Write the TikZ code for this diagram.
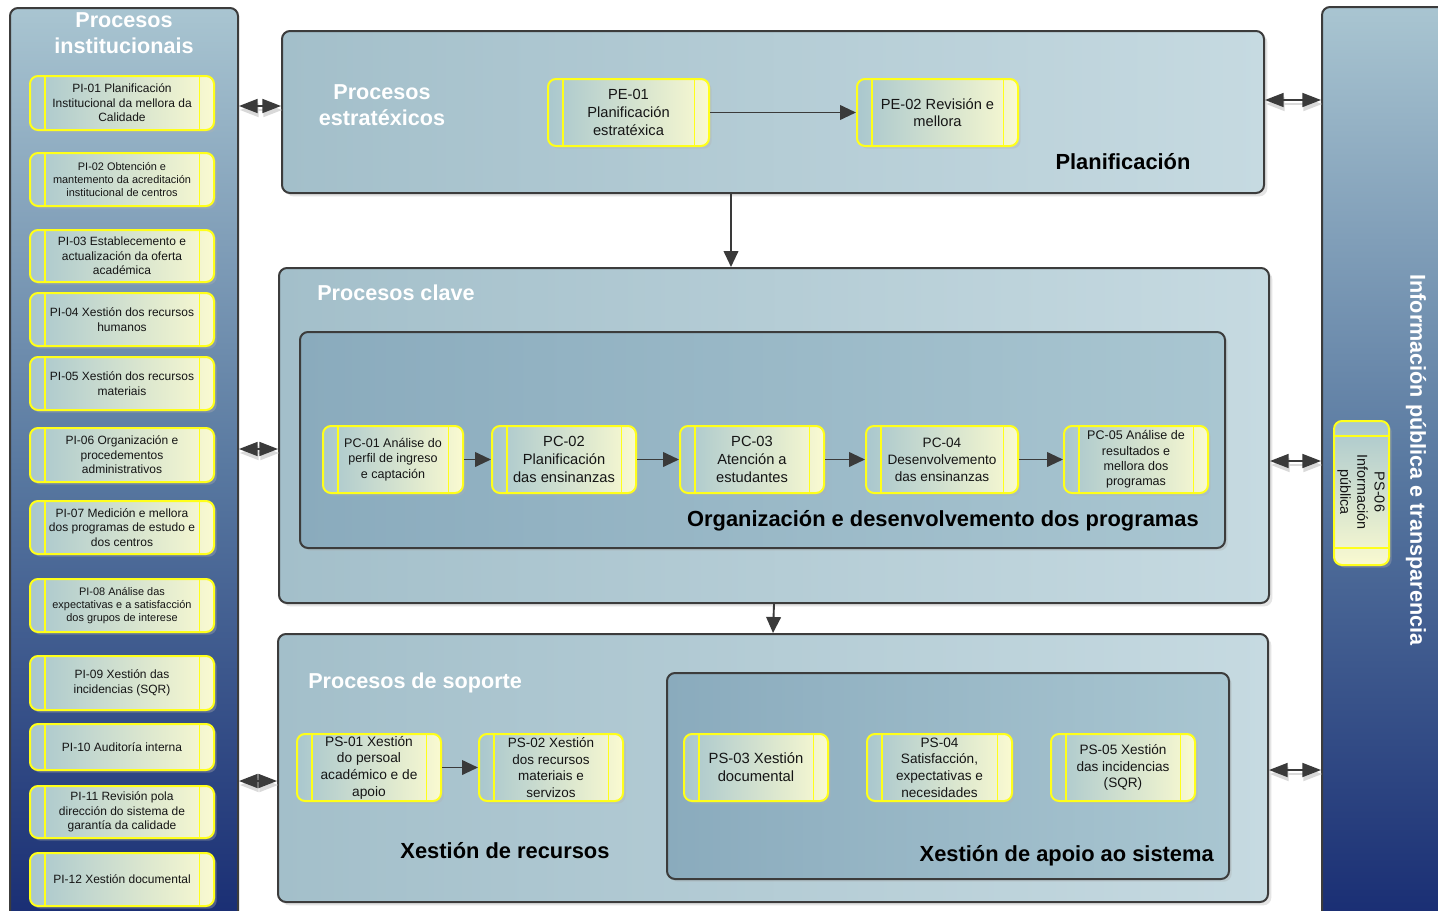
\documentclass[tikz,border=0pt]{standalone}
\usepackage{fontspec}
\setmainfont{Liberation Sans}
\usetikzlibrary{arrows.meta,fit,calc,shadows}
\definecolor{procyellow}{HTML}{FFFF1A}
\definecolor{pboxL}{HTML}{A9C7CE}
\definecolor{pboxR}{HTML}{FAFAD0}
\definecolor{contL}{HTML}{A3BFCA}
\definecolor{contR}{HTML}{C6DAE1}
\definecolor{innerL}{HTML}{8AABBD}
\definecolor{innerR}{HTML}{A9C6D1}
\definecolor{colT}{HTML}{A9C5D1}
\definecolor{colM}{HTML}{5878A0}
\definecolor{colB}{HTML}{172B72}
\definecolor{edge}{HTML}{3C3C3C}
\definecolor{arrowc}{HTML}{3A3A3A}
\definecolor{txt}{HTML}{151515}
\tikzset{
  pbox/.style={draw=procyellow, line width=1.5pt, rounded corners=6pt,
    left color=pboxL, right color=pboxR, inner sep=0pt,
    drop shadow={shadow xshift=2pt, shadow yshift=-2pt, fill=black!30, opacity=0.35},
    path picture={
      \draw[procyellow, line width=1.3pt]
        ([xshift=11.2pt]path picture bounding box.north west) --
        ([xshift=11.2pt]path picture bounding box.south west);
      \draw[procyellow, line width=1.3pt]
        ([xshift=-10.8pt]path picture bounding box.north east) --
        ([xshift=-10.8pt]path picture bounding box.south east);
    }},
  ptext/.style={align=center, text=txt, inner sep=0pt},
  vbox/.style={draw=procyellow, line width=1.5pt, rounded corners=6pt,
    top color=pboxL, bottom color=pboxR, inner sep=0pt,
    drop shadow={shadow xshift=2pt, shadow yshift=-2pt, fill=black!30, opacity=0.35},
    path picture={
      \draw[procyellow, line width=1.3pt]
        ([yshift=-11.5pt]path picture bounding box.north west) --
        ([yshift=-11.5pt]path picture bounding box.north east);
      \draw[procyellow, line width=1.3pt]
        ([yshift=12.5pt]path picture bounding box.south west) --
        ([yshift=12.5pt]path picture bounding box.south east);
    }},
  cont/.style={draw=edge, line width=1.5pt, rounded corners=6pt,
    left color=contL, right color=contR, inner sep=0pt,
    drop shadow={shadow xshift=2.5pt, shadow yshift=-2.5pt, fill=black!35, opacity=0.3}},
  innerbox/.style={draw=edge, line width=1.5pt, rounded corners=6pt,
    left color=innerL, right color=innerR, inner sep=0pt,
    drop shadow={shadow xshift=2pt, shadow yshift=-2pt, fill=black!35, opacity=0.3}},
  colbox/.style={draw=edge, line width=1.5pt, rounded corners=6pt,
    top color=colT, bottom color=colB, middle color=colM, inner sep=0pt},
  wtitle/.style={text=white, font=\fontsize{16.2}{19.5}\selectfont\bfseries, align=center, inner sep=0pt},
  btitle/.style={text=black, font=\fontsize{16.4}{19}\selectfont\bfseries, inner sep=0pt},
  arr/.style={draw=arrowc, line width=1.4pt, -{Triangle[length=12pt,width=11pt]}},
  dbl/.style={draw=arrowc, line width=1.3pt, {Triangle[length=14pt,width=10.5pt]}-{Triangle[length=14pt,width=10.5pt]}},
  dblsh/.style={draw=black!15, line width=1.3pt, {Triangle[length=14pt,width=10.5pt]}-{Triangle[length=14pt,width=10.5pt]}},
}
% name, corner1, corner2, font, text
\newcommand\mkproc[5]{%
  \node[pbox, fit={#2 #3}] (#1) {};
  \node[ptext, font=#4] (#1t) at (#1.center) {#5};
}
\newcommand\fPI{\fontsize{9}{10.9}\selectfont}
\newcommand\fPIs{\fontsize{8.2}{9.8}\selectfont}
\begin{document}
\begin{tikzpicture}[x=0.75pt,y=-0.75pt]
\useasboundingbox (0,0) rectangle (1438,910);
\clip (0,0) rectangle (1438,910);
\fill[white] (0,0) rectangle (1438,910);

% columns
\node[colbox, fit={(10,8) (238,935)}] (lcol) {};
\node[colbox, fit={(1322,7) (1460,935)}] (rcol) {};
\node[wtitle] (lcoltitle) at (124,33) {Procesos\\institucionais};
\node[wtitle, rotate=-90] (rcoltitle) at (1416,460) {Información pública e transparencia};

% PI boxes
\mkproc{pi1}{(30,76)}{(214,130)}{\fPI}{PI-01 Planificación\\Institucional da mellora da\\Calidade}
\mkproc{pi2}{(30,153)}{(214,206)}{\fPIs}{PI-02 Obtención e\\mantemento da acreditación\\institucional de centros}
\mkproc{pi3}{(30,230)}{(214,282)}{\fPI}{PI-03 Establecemento e\\actualización da oferta\\académica}
\mkproc{pi4}{(30,293)}{(214,346)}{\fPI}{PI-04 Xestión dos recursos\\humanos}
\mkproc{pi5}{(30,357)}{(214,410)}{\fPI}{PI-05 Xestión dos recursos\\materiais}
\mkproc{pi6}{(30,428)}{(214,482)}{\fPI}{PI-06 Organización e\\procedementos\\administrativos}
\mkproc{pi7}{(30,501)}{(214,554)}{\fPI}{PI-07 Medición e mellora\\dos programas de estudo e\\dos centros}
\mkproc{pi8}{(30,579)}{(214,632)}{\fPIs}{PI-08 Análise das\\expectativas e a satisfacción\\dos grupos de interese}
\mkproc{pi9}{(30,656)}{(214,710)}{\fPI}{PI-09 Xestión das\\incidencias (SQR)}
\mkproc{pi10}{(30,724)}{(214,770)}{\fPI}{PI-10 Auditoría interna}
\mkproc{pi11}{(30,786)}{(214,838)}{\fPI}{PI-11 Revisión pola\\dirección do sistema de\\garantía da calidade}
\mkproc{pi12}{(30,853)}{(214,906)}{\fPI}{PI-12 Xestión documental}

% strategic
\node[cont, fit={(282,31) (1264,193)}] (strat) {};
\node[wtitle] (strattitle) at (382,105) {Procesos\\estratéxicos};
\mkproc{pe1}{(548,79)}{(709,146)}{\fontsize{11}{13.2}\selectfont}{PE-01\\Planificación\\estratéxica}
\mkproc{pe2}{(857,79)}{(1018,146)}{\fontsize{11}{13.2}\selectfont}{PE-02 Revisión e\\mellora}
\node[btitle] (plan) at (1123,162) {Planificación};
\draw[arr] (pe1) -- (pe2);

% key
\node[cont, fit={(279,268) (1269,603)}] (key) {};
\node[wtitle, anchor=west] (keytitle) at (317,293) {Procesos clave};
\node[innerbox, fit={(300,332) (1225,548)}] (keyin) {};
\mkproc{pc1}{(323,426)}{(463,493)}{\fontsize{9.4}{11.6}\selectfont}{PC-01 Análise do\\perfil de ingreso\\e captación}
\mkproc{pc2}{(492,426)}{(636,493)}{\fontsize{11}{13.5}\selectfont}{PC-02\\Planificación\\das ensinanzas}
\mkproc{pc3}{(680,426)}{(824,493)}{\fontsize{11}{13.5}\selectfont}{PC-03\\Atención a\\estudantes}
\mkproc{pc4}{(866,426)}{(1018,493)}{\fontsize{10.2}{12.7}\selectfont}{PC-04\\Desenvolvemento\\das ensinanzas}
\mkproc{pc5}{(1064,426)}{(1208,493)}{\fontsize{9.4}{11.5}\selectfont}{PC-05 Análise de\\resultados e\\mellora dos\\programas}
\draw[arr] (pc1) -- (pc2);
\draw[arr] (pc2) -- (pc3);
\draw[arr] (pc3) -- (pc4);
\draw[arr] (pc4) -- (pc5);
\node[btitle, anchor=east] (keylabel) at (1199,521) {Organización e desenvolvemento dos programas};

% support
\node[cont, fit={(278,634) (1268,902)}] (sup) {};
\node[wtitle, anchor=west] (suptitle) at (308,683) {Procesos de soporte};
\mkproc{ps1}{(297,734)}{(441,801)}{\fontsize{10.3}{12.5}\selectfont}{PS-01 Xestión\\do persoal\\académico e de\\apoio}
\mkproc{ps2}{(479,734)}{(623,801)}{\fontsize{10.1}{12.5}\selectfont}{PS-02 Xestión\\dos recursos\\materiais e\\servizos}
\draw[arr] (ps1) -- (ps2);
\node[btitle] (reclabel) at (505,851) {Xestión de recursos};
\node[innerbox, fit={(667,673) (1229,879)}] (supin) {};
\mkproc{ps3}{(684,734)}{(828,801)}{\fontsize{11.1}{13.5}\selectfont}{PS-03 Xestión\\documental}
\mkproc{ps4}{(867,734)}{(1012,801)}{\fontsize{10.2}{12.5}\selectfont}{PS-04\\Satisfacción,\\expectativas e\\necesidades}
\mkproc{ps5}{(1051,734)}{(1195,801)}{\fontsize{10.2}{12.5}\selectfont}{PS-05 Xestión\\das incidencias\\(SQR)}
\node[btitle, anchor=east] (apoiolabel) at (1214,856) {Xestión de apoio ao sistema};

% PS-06
\node[vbox, fit={(1334,421) (1389,565)}] (ps6) {};
\node[rotate=-90, align=center, text=txt, font=\fontsize{10.8}{12.8}\selectfont, inner sep=0pt] (ps6t) at (1361,492) {PS-06\\Información\\pública};

% vertical connectors
\coordinate (ax) at (731,0);
\draw[arr] (strat.south -| ax) -- (key.north -| ax);
\draw[arr] (key.south) -- (sup.north);

% double arrows with shadows
\foreach \a/\b/\dy in {lcol/strat/-6, lcol/key/13.5, lcol/sup/13}{
  \draw[dblsh] ($(\b.west -| \a.east)+(1,\dy+4)$) -- ($(\b.west)+(1,\dy+4)$);
  \draw[dbl] ($(\b.west -| \a.east)+(0,\dy)$) -- ($(\b.west)+(0,\dy)$);
}
\foreach \a/\b/\dy in {strat/rcol/-12, key/rcol/25.5, sup/rcol/2}{
  \draw[dblsh] ($(\a.east)+(1,\dy+4)$) -- ($(\a.east -| \b.west)+(1,\dy+4)$);
  \draw[dbl] ($(\a.east)+(0,\dy)$) -- ($(\a.east -| \b.west)+(0,\dy)$);
}
\end{tikzpicture}
\end{document}
